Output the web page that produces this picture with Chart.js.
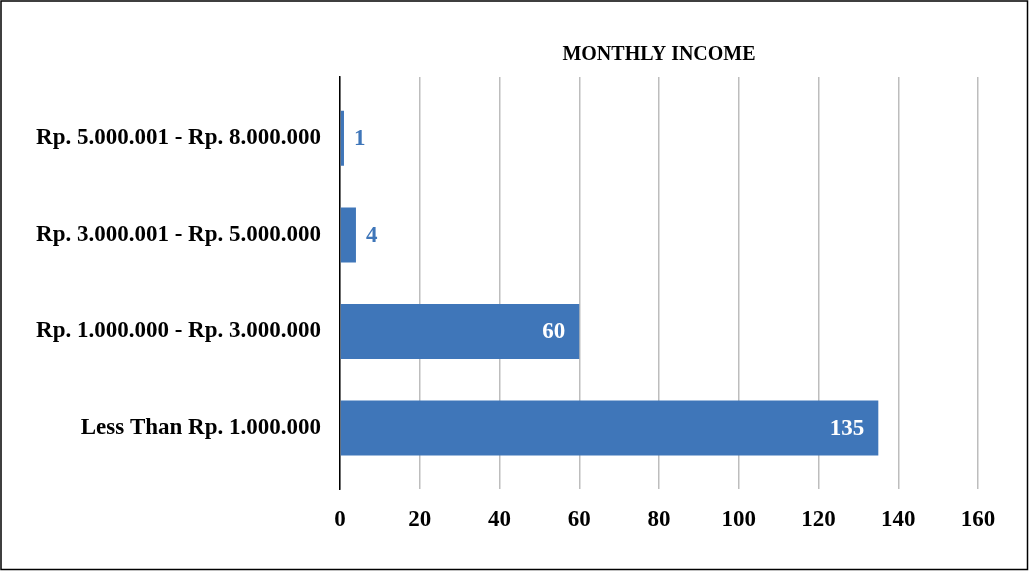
<!DOCTYPE html>
<html>
<head>
<meta charset="utf-8">
<script src="https://cdn.jsdelivr.net/npm/chart.js@4.4.1/dist/chart.umd.min.js"></script>
<style>
  html, body { margin: 0; padding: 0; background: #fff; }
  #wrap { width: 1029px; height: 571px; position: relative; }
</style>
</head>
<body>
<div id="wrap"><canvas id="canvas" width="1029" height="571"></canvas></div>
<script>
// data (bottom to top, like the spreadsheet)
var categories = [
	"Less Than Rp. 1.000.000",
	"Rp. 1.000.000 - Rp. 3.000.000",
	"Rp. 3.000.001 - Rp. 5.000.000",
	"Rp. 5.000.001 - Rp. 8.000.000"
];
var counts = [135, 60, 4, 1];
var xTicks = [0, 20, 40, 60, 80, 100, 120, 140, 160];
var chartTitle = "MONTHLY INCOME";

var barBlue = "#3F76B9";

Chart.defaults.font.family = "'Liberation Serif', 'Times New Roman', serif";
Chart.defaults.color = "#000";

var points = counts.map(function(v, i) { return { x: v, y: i }; });

// frame round the picture
var framePlugin = {
	id: "frame",
	beforeDraw: function(chart) {
		var ctx = chart.ctx;
		ctx.save();
		ctx.fillStyle = "#fff";
		ctx.fillRect(0, 0, chart.width, chart.height);
		ctx.strokeStyle = "#000";
		ctx.lineWidth = 1.5;
		ctx.strokeRect(1, 1, chart.width - 2.5, chart.height - 2.5);
		ctx.restore();
	}
};

// value labels: inside end when they fit, else just outside in blue
var valueLabels = {
	id: "valueLabels",
	afterDatasetsDraw: function(chart) {
		var ctx = chart.ctx;
		var meta = chart.getDatasetMeta(0);
		ctx.save();
		ctx.font = "bold 23px 'Liberation Serif', serif";
		ctx.textBaseline = "middle";
		meta.data.forEach(function(bar, i) {
			var txt = String(counts[i]);
			var w = ctx.measureText(txt).width;
			var len = bar.x - bar.base;
			if (len > w + 28) {
				ctx.fillStyle = "#fff";
				ctx.textAlign = "right";
				ctx.fillText(txt, bar.x - 14, bar.y + 1);
			} else {
				ctx.fillStyle = barBlue;
				ctx.textAlign = "left";
				ctx.fillText(txt, bar.x + 10, bar.y + 1);
			}
		});
		ctx.restore();
	}
};

var ctx = document.getElementById("canvas").getContext("2d");
var chart = new Chart(ctx, {
	type: "bar",
	data: {
		datasets: [{
			label: chartTitle,
			data: points,
			backgroundColor: barBlue,
			borderWidth: 0,
			categoryPercentage: 1,
			barPercentage: 0.57
		}]
	},
	options: {
		indexAxis: "y",
		responsive: false,
		animation: false,
		layout: { padding: { left: 0, right: 51, top: 0, bottom: 20 } },
		plugins: {
			legend: { display: false },
			tooltip: { enabled: false },
			title: {
				display: true,
				text: chartTitle,
				fullSize: false,
				color: "#000",
				font: { size: 20, weight: "bold" },
				padding: { top: 43, bottom: 10 }
			}
		},
		scales: {
			x: {
				type: "linear",
				min: 0,
				max: 160,
				afterBuildTicks: function(scale) {
					scale.ticks = xTicks.map(function(v) { return { value: v }; });
				},
				grid: { color: "#bdbdbd", lineWidth: 1.5, drawTicks: false },
				border: { display: false },
				ticks: {
					padding: 17,
					font: { size: 23, weight: "bold" },
					color: "#000"
				}
			},
			y: {
				type: "linear",
				offset: false,
				min: -0.635,
				max: 3.635,
				afterBuildTicks: function(scale) {
					scale.ticks = categories.map(function(c, i) { return { value: i }; });
				},
				afterFit: function(scale) { scale.width = 340; },
				grid: { display: false, drawTicks: false, offset: false },
				border: { display: true, color: "#000", width: 1.5 },
				ticks: {
					autoSkip: false,
					padding: 19,
					font: { size: 23, weight: "bold" },
					color: "#000",
					callback: function(v) { return categories[v]; }
				}
			}
		}
	},
	plugins: [framePlugin, valueLabels]
});
</script>
</body>
</html>
